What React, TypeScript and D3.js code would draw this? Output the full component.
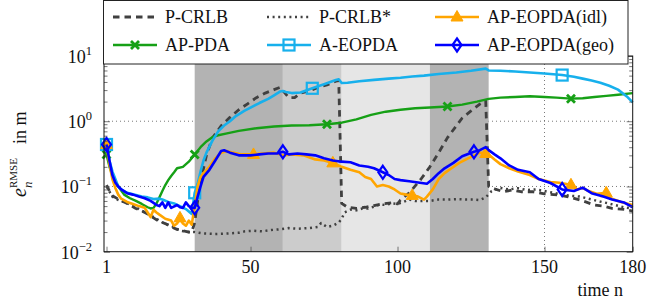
import { useEffect, useRef } from 'react';
import * as d3 from 'd3';

const W = 657;
const H = 305;

// time steps bounding the shaded periods
const regionBounds = [31, 61, 81, 111, 131];

const xTicks = [1, 50, 100, 150, 180];
const yTicks = [1e-2, 1e-1, 1, 10];
const yTickExp = ['\u22122', '\u22121', '0', '1'];

// [time n, RMSE in m]
const pCrlb: [number, number][] = [
  [1, 0.105], [2, 0.085], [3, 0.072], [5, 0.064], [7, 0.058], [9, 0.052], [11, 0.046], [13, 0.042],
  [15, 0.038], [17, 0.033], [19, 0.029], [21, 0.027], [23, 0.024], [25, 0.022], [27, 0.021], [29, 0.02],
  [30, 0.02], [31, 0.028], [32, 0.06], [33, 0.12], [35, 0.3], [37, 0.55], [40, 0.85], [43, 1.15],
  [46, 1.5], [49, 1.85], [52, 2.3], [55, 2.7], [58, 3.05], [60, 3.3], [62, 2.6], [63, 2.3], [65, 2.3],
  [67, 2.7], [70, 2.9], [73, 3.3], [76, 3.6], [79, 4.1], [80, 4.2], [81, 0.055], [83, 0.048], [86, 0.046],
  [89, 0.048], [92, 0.051], [95, 0.054], [98, 0.056], [100, 0.054], [101, 0.062], [104, 0.08], [108, 0.13],
  [111, 0.2], [114, 0.33], [117, 0.56], [120, 0.85], [122, 1.12], [125, 1.44], [128, 1.83], [130, 2.04],
  [131, 0.1], [133, 0.092], [136, 0.083], [139, 0.088], [142, 0.083], [146, 0.083], [150, 0.077],
  [155, 0.074], [159, 0.068], [162, 0.062], [164, 0.058], [167, 0.052], [170, 0.05], [173, 0.046],
  [176, 0.045], [178, 0.044], [180, 0.042],
];

const pCrlbStar: [number, number][] = [
  [1, 0.1], [3, 0.07], [5, 0.062], [8, 0.055], [11, 0.048], [14, 0.04], [17, 0.034], [20, 0.028],
  [23, 0.025], [26, 0.021], [29, 0.02], [31, 0.02], [34, 0.019], [38, 0.0187], [42, 0.019], [46, 0.0195],
  [48, 0.0205], [51, 0.021], [54, 0.0205], [57, 0.0215], [60, 0.022], [63, 0.023], [66, 0.0225],
  [70, 0.023], [73, 0.024], [74, 0.0275], [76, 0.024], [78, 0.025], [80, 0.028], [81, 0.032], [82, 0.04],
  [84, 0.044], [86, 0.043], [88, 0.046], [90, 0.046], [92, 0.049], [94, 0.053], [96, 0.052], [98, 0.055],
  [100, 0.054], [102, 0.058], [104, 0.063], [106, 0.06], [108, 0.06], [111, 0.06], [114, 0.063],
  [117, 0.063], [120, 0.064], [123, 0.063], [126, 0.063], [128, 0.062], [130, 0.068], [132, 0.085],
  [135, 0.095], [138, 0.09], [141, 0.094], [144, 0.088], [147, 0.09], [150, 0.085], [153, 0.08],
  [156, 0.075], [159, 0.072], [162, 0.07], [165, 0.065], [168, 0.06], [171, 0.056], [174, 0.052],
  [177, 0.048], [180, 0.046],
];

const apPda: [number, number][] = [
  [1, 0.31], [2, 0.2], [3, 0.15], [4, 0.12], [5, 0.1], [7, 0.075], [9, 0.066], [11, 0.06], [13, 0.054],
  [15, 0.048], [16, 0.046], [17, 0.047], [18, 0.055], [19, 0.068], [20, 0.085], [21, 0.105], [22, 0.125],
  [23, 0.145], [24, 0.165], [25, 0.19], [27, 0.2], [29, 0.24], [31, 0.31], [33, 0.4], [35, 0.49],
  [37, 0.57], [39, 0.61], [42, 0.65], [46, 0.71], [52, 0.78], [58, 0.83], [64, 0.86], [70, 0.87],
  [76, 0.9], [81, 0.95], [86, 1.07], [91, 1.25], [96, 1.4], [101, 1.5], [106, 1.58], [111, 1.62],
  [117, 1.68], [122, 1.8], [127, 2.0], [131, 2.2], [135, 2.3], [140, 2.35], [145, 2.42], [150, 2.35],
  [154, 2.3], [159, 2.22], [163, 2.25], [167, 2.35], [171, 2.45], [175, 2.55], [180, 2.7],
];

const aEopda: [number, number][] = [
  [1, 0.44], [2, 0.25], [3, 0.17], [4, 0.13], [5, 0.1], [6, 0.09], [8, 0.08], [11, 0.074], [13, 0.07],
  [15, 0.068], [17, 0.064], [19, 0.065], [20, 0.063], [22, 0.058], [24, 0.055], [26, 0.05], [28, 0.045],
  [30, 0.038], [31, 0.08], [32, 0.11], [33, 0.17], [34, 0.25], [35, 0.33], [37, 0.5], [39, 0.7],
  [41, 0.86], [43, 1.0], [45, 1.2], [48, 1.45], [50, 1.62], [53, 1.9], [56, 2.2], [58, 2.5], [60, 2.85],
  [61, 2.9], [62, 2.8], [64, 2.7], [67, 2.75], [71, 3.2], [75, 3.7], [79, 4.3], [80, 4.4], [81, 3.85],
  [83, 3.9], [87, 4.1], [92, 4.3], [97, 4.5], [101, 4.65], [105, 4.85], [109, 5.0], [114, 5.3],
  [120, 5.6], [125, 5.95], [130, 6.4], [131, 6.0], [135, 5.95], [140, 5.8], [145, 5.6], [150, 5.4],
  [156, 5.1], [160, 4.8], [163, 4.5], [166, 4.2], [169, 3.9], [172, 3.5], [175, 3.05], [178, 2.4],
  [180, 1.95],
];

const apEopdaIdl: [number, number][] = [
  [1, 0.44], [2, 0.22], [3, 0.13], [4, 0.095], [5, 0.075], [6, 0.065], [8, 0.058], [10, 0.054],
  [12, 0.05], [14, 0.047], [15, 0.04], [16, 0.034], [17, 0.044], [18, 0.04], [19, 0.037], [21, 0.032],
  [23, 0.03], [24, 0.025], [25, 0.027], [26, 0.033], [27, 0.027], [28, 0.025], [29, 0.03], [30, 0.026],
  [31, 0.05], [32, 0.1], [33, 0.14], [34, 0.16], [36, 0.2], [38, 0.27], [40, 0.33], [42, 0.35],
  [44, 0.33], [47, 0.31], [51, 0.31], [54, 0.32], [58, 0.33], [61, 0.3], [64, 0.31], [68, 0.3],
  [72, 0.26], [75, 0.25], [78, 0.23], [81, 0.2], [84, 0.18], [87, 0.165], [89, 0.14], [91, 0.13],
  [93, 0.1], [95, 0.105], [97, 0.1], [99, 0.09], [101, 0.078], [103, 0.075], [105, 0.073], [107, 0.07],
  [109, 0.063], [110, 0.07], [112, 0.09], [114, 0.13], [116, 0.16], [118, 0.185], [121, 0.23],
  [124, 0.27], [128, 0.33], [130, 0.32], [131, 0.31], [133, 0.26], [135, 0.22], [138, 0.19], [141, 0.17],
  [145, 0.15], [148, 0.13], [152, 0.117], [155, 0.114], [159, 0.106], [161, 0.09], [163, 0.095],
  [165, 0.085], [168, 0.077], [171, 0.08], [172, 0.067], [176, 0.058], [180, 0.052],
];

const apEopdaGeo: [number, number][] = [
  [1, 0.44], [2, 0.25], [3, 0.15], [4, 0.115], [5, 0.1], [6, 0.09], [8, 0.079], [10, 0.075], [12, 0.07],
  [14, 0.066], [16, 0.06], [17, 0.056], [18, 0.052], [19, 0.05], [20, 0.057], [21, 0.047], [22, 0.057],
  [23, 0.047], [25, 0.052], [26, 0.048], [27, 0.047], [28, 0.057], [29, 0.05], [30, 0.047], [31, 0.047],
  [32, 0.07], [33, 0.1], [34, 0.14], [36, 0.18], [38, 0.25], [40, 0.35], [41, 0.36], [43, 0.33],
  [46, 0.3], [50, 0.3], [53, 0.31], [56, 0.32], [59, 0.32], [61, 0.34], [63, 0.31], [66, 0.32],
  [69, 0.31], [72, 0.3], [75, 0.27], [78, 0.25], [81, 0.24], [84, 0.235], [87, 0.21], [90, 0.2],
  [92, 0.19], [95, 0.165], [97, 0.15], [99, 0.13], [101, 0.125], [104, 0.12], [107, 0.115], [110, 0.11],
  [112, 0.13], [114, 0.16], [116, 0.19], [119, 0.23], [122, 0.29], [126, 0.34], [128, 0.36], [130, 0.4],
  [131, 0.36], [133, 0.31], [135, 0.27], [138, 0.21], [141, 0.18], [145, 0.165], [148, 0.13],
  [152, 0.113], [156, 0.09], [160, 0.085], [163, 0.096], [166, 0.079], [170, 0.07], [173, 0.063],
  [177, 0.057], [180, 0.048],
];

// time steps that carry a marker
const apPdaMarks = [1, 31, 76, 117, 159];
const aEopdaMarks = [1, 31, 71, 156];
const idlMarks = [1, 26, 51, 78, 105, 130, 159, 171];
const geoMarks = [1, 31, 61, 95, 126, 156];

const seriesNames = ['P-CRLB', 'P-CRLB*', 'AP-PDA', 'A-EOPDA', 'AP-EOPDA(idl)', 'AP-EOPDA(geo)'];
const seriesData = [pCrlb, pCrlbStar, apPda, aEopda, apEopdaIdl, apEopdaGeo];
const seriesMarks = [[], [], apPdaMarks, aEopdaMarks, idlMarks, geoMarks];

// legend order, row by row
const legendOrder = ['P-CRLB', 'P-CRLB*', 'AP-EOPDA(idl)', 'AP-PDA', 'A-EOPDA', 'AP-EOPDA(geo)'];

const styles: Record<string, { color: string; width: number; dash?: string; mark?: string }> = {
  'P-CRLB': { color: '#404040', width: 2.8, dash: '6.5 5' },
  'P-CRLB*': { color: '#404040', width: 2.5, dash: '2 3.6' },
  'AP-PDA': { color: '#16a016', width: 2.4, mark: 'x' },
  'A-EOPDA': { color: '#17b0ec', width: 2.6, mark: 'square' },
  'AP-EOPDA(idl)': { color: '#ffa500', width: 2.6, mark: 'triangle' },
  'AP-EOPDA(geo)': { color: '#0000ff', width: 2.6, mark: 'diamond' },
};
const regionFills = ['#b3b3b3', '#cccccc', '#e6e6e6', '#b3b3b3'];

const serif = 'Liberation Serif, DejaVu Serif, serif';

function drawMark(g: any, kind: string, cx: number, cy: number, color: string) {
  if (kind === 'x') {
    const r = 4;
    g.append('path')
      .attr('d', `M${cx - r},${cy - r}L${cx + r},${cy + r}M${cx - r},${cy + r}L${cx + r},${cy - r}`)
      .attr('stroke', color).attr('stroke-width', 2.8).attr('fill', 'none');
  } else if (kind === 'square') {
    g.append('rect').attr('x', cx - 5.5).attr('y', cy - 5.5).attr('width', 11).attr('height', 11)
      .attr('fill', 'none').attr('stroke', color).attr('stroke-width', 2.2);
  } else if (kind === 'triangle') {
    g.append('path').attr('d', `M${cx},${cy - 6.5}L${cx + 6},${cy + 4}L${cx - 6},${cy + 4}Z`)
      .attr('fill', color).attr('stroke', color).attr('stroke-width', 1);
  } else if (kind === 'diamond') {
    g.append('path').attr('d', `M${cx},${cy - 6.5}L${cx + 4.5},${cy}L${cx},${cy + 6.5}L${cx - 4.5},${cy}Z`)
      .attr('fill', 'none').attr('stroke', color).attr('stroke-width', 2.2);
  }
}

function RmseChart() {
  const svgRef = useRef<SVGSVGElement>(null);

  useEffect(() => {
    const left = 104;
    const right = 632.7;
    const top = 56;
    const bottom = 251.7;

    const svg = d3.select(svgRef.current);
    svg.selectAll('*').remove();

    const x = d3.scaleLinear().domain([1, 180]).range([106.5, right]);
    const y = d3.scaleLog().domain([1e-2, 1e1]).range([bottom, top]);

    svg.append('rect').attr('width', W).attr('height', H).attr('fill', '#fff');

    // dotted grid
    const grid = svg.append('g')
      .attr('stroke', '#6a6a6a').attr('stroke-width', 0.9).attr('stroke-dasharray', '1 3');
    yTicks.slice(1, -1).forEach(v => {
      grid.append('line').attr('x1', left).attr('x2', right).attr('y1', y(v)).attr('y2', y(v));
    });
    xTicks.slice(1, -1).forEach(v => {
      grid.append('line').attr('x1', x(v)).attr('x2', x(v)).attr('y1', top).attr('y2', bottom);
    });

    // shaded periods
    regionFills.forEach((f, i) => {
      svg.append('rect')
        .attr('x', x(regionBounds[i]))
        .attr('width', x(regionBounds[i + 1]) - x(regionBounds[i]))
        .attr('y', top).attr('height', bottom - top)
        .attr('fill', f);
    });

    const line = d3.line<[number, number]>().x(d => x(d[0])).y(d => y(d[1]));

    seriesNames.forEach((name, i) => {
      const st = styles[name];
      svg.append('path')
        .datum(seriesData[i])
        .attr('d', line)
        .attr('fill', 'none')
        .attr('stroke', st.color)
        .attr('stroke-width', st.width)
        .attr('stroke-linejoin', 'round')
        .attr('stroke-dasharray', st.dash || null);
      const mg = svg.append('g');
      seriesMarks[i].forEach(n => {
        const pt = seriesData[i].find(d => d[0] === n);
        if (pt && st.mark) drawMark(mg, st.mark, x(pt[0]), y(pt[1]), st.color);
      });
    });

    // axis ticks (inside)
    const minor = y.ticks().filter(v => !yTicks.some(t => Math.abs(t - v) < 1e-9));
    const tickCol = '#555';
    const tickStyle = (g: any) => {
      g.select('.domain').remove();
      g.selectAll('line').attr('stroke', tickCol).attr('stroke-width', 0.8);
    };
    svg.append('g').attr('transform', `translate(${left},0)`)
      .call(d3.axisRight(y).tickValues(minor).tickSize(3.5).tickFormat(() => '')).call(tickStyle);
    svg.append('g').attr('transform', `translate(${left},0)`)
      .call(d3.axisRight(y).tickValues(yTicks).tickSize(6).tickFormat(() => '')).call(tickStyle);
    svg.append('g').attr('transform', `translate(${right},0)`)
      .call(d3.axisLeft(y).tickValues(minor).tickSize(3.5).tickFormat(() => '')).call(tickStyle);
    svg.append('g').attr('transform', `translate(${right},0)`)
      .call(d3.axisLeft(y).tickValues(yTicks).tickSize(6).tickFormat(() => '')).call(tickStyle);
    svg.append('g').attr('transform', `translate(0,${bottom})`)
      .call(d3.axisTop(x).tickValues(xTicks).tickSize(5).tickFormat(() => '')).call(tickStyle);

    // frame
    svg.append('rect')
      .attr('x', left).attr('y', top).attr('width', right - left).attr('height', bottom - top)
      .attr('fill', 'none').attr('stroke', '#111').attr('stroke-width', 1);

    const txt = (sel: any, size: number) =>
      sel.style('font-family', serif).style('font-size', `${size}px`).attr('fill', '#111');

    // y tick labels
    yTicks.forEach((v, i) => {
      const t = txt(svg.append('text'), 18)
        .attr('x', 92).attr('y', y(v) + 7)
        .attr('text-anchor', 'end');
      t.append('tspan').text('10');
      t.append('tspan').attr('dy', -8).style('font-size', '12.5px').text(yTickExp[i]);
    });

    // x tick labels
    xTicks.forEach(d => {
      txt(svg.append('text'), 18)
        .attr('x', x(d)).attr('y', 273)
        .attr('text-anchor', 'middle')
        .text(String(d));
    });

    txt(svg.append('text'), 18)
      .attr('x', 623).attr('y', 296).attr('text-anchor', 'end')
      .text('time n');

    // y label
    const yl = svg.append('g').attr('transform', 'translate(26,152) rotate(-90)');
    txt(yl.append('text'), 20).attr('x', -45).attr('y', 0).style('font-style', 'italic').text('e');
    txt(yl.append('text'), 11).attr('x', -36).attr('y', -9).text('RMSE');
    txt(yl.append('text'), 13).attr('x', -36).attr('y', 6).style('font-style', 'italic').text('n');
    txt(yl.append('text'), 18).attr('x', 8).attr('y', 0).text('in m');

    // legend
    const lg = svg.append('g');
    lg.append('rect').attr('x', 103.5).attr('y', 0.5).attr('width', 524.5).attr('height', 63.5)
      .attr('fill', '#fff').attr('stroke', '#222').attr('stroke-width', 1);
    const colX = [113, 267, 435];
    const rowY = [17, 45];
    legendOrder.forEach((name, k) => {
      const st = styles[name];
      const cx = colX[k % 3];
      const cy = rowY[Math.floor(k / 3)];
      lg.append('line').attr('x1', cx).attr('x2', cx + 44).attr('y1', cy).attr('y2', cy)
        .attr('stroke', st.color).attr('stroke-width', st.width)
        .attr('stroke-dasharray', st.dash || null);
      if (st.mark) drawMark(lg, st.mark, cx + 22, cy, st.color);
      txt(lg.append('text'), 18).attr('x', cx + 52).attr('y', cy + 6).text(name);
    });
  }, []);

  return <svg ref={svgRef} width={W} height={H} style={{ position: 'absolute', left: 0, top: 0 }} />;
}

export default function App() {
  return <RmseChart />;
}
